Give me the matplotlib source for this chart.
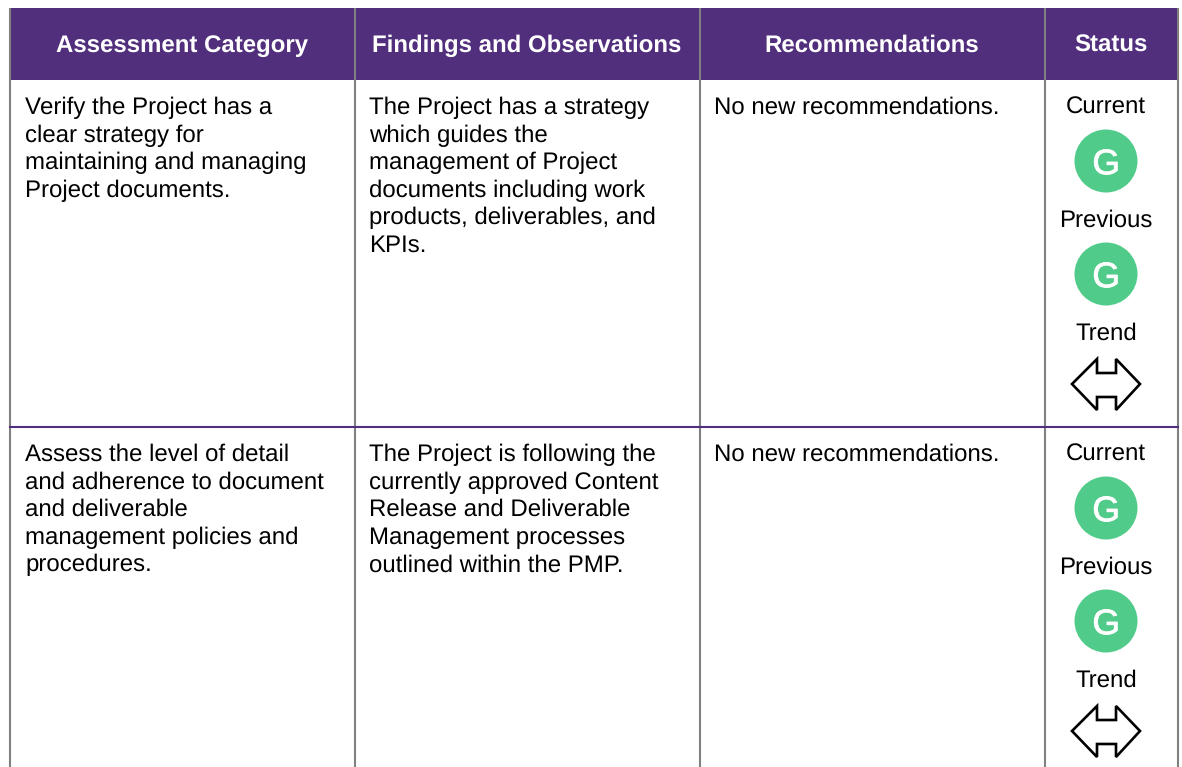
#!/usr/bin/env python3
"""Project assessment table, drawn in pixel coordinates."""

import matplotlib
matplotlib.use("Agg")
import matplotlib.pyplot as plt
import matplotlib.patheffects as pe
from matplotlib.patches import Circle, Polygon, Rectangle

plt.rcParams["font.family"] = ["Liberation Sans", "DejaVu Sans"]
plt.rcParams["text.hinting"] = "no_hinting"
plt.rcParams["text.hinting_factor"] = 1

PURPLE = "#512f7d"
GREY = "#808080"
GREEN = "#50cb8a"

W, H = 1182, 767
TEXT_PT = 17.25
HEAD_PT = 17.4
LINE_H = 27.6

HEADERS = ["Assessment Category", "Findings and Observations", "Recommendations", "Status"]
COL_EDGES = [10, 355, 700, 1045, 1178]
HEADER_TOP = 8
HEADER_BOTTOM = 80
ROW_TOPS = [80, 427]

CATEGORIES = [
    ["Verify the Project has a", "clear strategy for", "maintaining and managing", "Project documents."],
    ["Assess the level of detail", "and adherence to document", "and deliverable",
     "management policies and", "procedures."],
]
FINDINGS = [
    ["The Project has a strategy", "which guides the", "management of Project",
     "documents including work", "products, deliverables, and", "KPIs."],
    ["The Project is following the", "currently approved Content", "Release and Deliverable",
     "Management processes", "outlined within the PMP."],
]
RECOMMENDATIONS = [
    ["No new recommendations."],
    ["No new recommendations."],
]
CURRENT = ["G", "G"]
PREVIOUS = ["G", "G"]


def draw_lines(ax, x, y, lines):
    for i, line in enumerate(lines):
        ax.text(x, y + i * LINE_H, line, fontsize=TEXT_PT, color="black", ha="left", va="baseline")


def draw_badge(ax, cx, cy, letter):
    ax.add_patch(Circle((cx, cy), 31.5, color=GREEN, lw=0, zorder=3))
    ax.text(cx, cy + 0.5, letter, fontsize=25.5, color="white", ha="center", va="center_baseline", zorder=4,
            path_effects=[pe.withStroke(linewidth=0.6, foreground="white")])


def draw_trend(ax, cx, cy):
    # double headed arrow, offsets from the centre of the shape
    dx = [-34, -9, -9, 10, 10, 34, 10, 10, -9, -9]
    dy = [0, -25, -11, -11, -25, 0, 26, 13, 13, 26]
    pts = [(cx + a, cy + b) for a, b in zip(dx, dy)]
    ax.add_patch(Polygon(pts, closed=True, fc="white", ec="black", lw=1.9, joinstyle="miter", zorder=3))


def main():
    fig = plt.figure(figsize=(W / 100, H / 100), dpi=100)
    ax = fig.add_axes([0, 0, 1, 1])
    ax.set_xlim(0, W)
    ax.set_ylim(H, 0)
    ax.axis("off")

    # header band
    ax.add_patch(Rectangle((COL_EDGES[0], HEADER_TOP), COL_EDGES[-1] - COL_EDGES[0],
                           HEADER_BOTTOM - HEADER_TOP, fc=PURPLE, ec="none", zorder=1))
    for i, head in enumerate(HEADERS):
        cx = (COL_EDGES[i] + COL_EDGES[i + 1]) / 2 - 0.5
        ax.text(cx, 52, head, fontsize=HEAD_PT, fontweight="bold", color="white",
                ha="center", va="baseline", zorder=4)

    # grid
    for x in COL_EDGES:
        ax.plot([x, x], [HEADER_TOP, H], color=GREY, lw=1.5, zorder=2, solid_capstyle="butt")
    ax.plot([COL_EDGES[0], COL_EDGES[-1]], [ROW_TOPS[1], ROW_TOPS[1]], color=PURPLE, lw=1.5, zorder=2.5)

    status_x = 1106
    for r, top in enumerate(ROW_TOPS):
        y0 = top + 34
        draw_lines(ax, 25, y0, CATEGORIES[r])
        draw_lines(ax, 369, y0, FINDINGS[r])
        draw_lines(ax, 714, y0, RECOMMENDATIONS[r])

        ax.text(status_x, y0, "Current", fontsize=TEXT_PT, ha="center", va="baseline")
        draw_badge(ax, status_x, top + 81, CURRENT[r])
        ax.text(status_x, top + 147, "Previous", fontsize=TEXT_PT, ha="center", va="baseline")
        draw_badge(ax, status_x, top + 194, PREVIOUS[r])
        ax.text(status_x, top + 260, "Trend", fontsize=TEXT_PT, ha="center", va="baseline")
        draw_trend(ax, status_x, top + 304)

    fig.savefig("out.png", dpi=100, facecolor="white")
    plt.close(fig)


if __name__ == "__main__":
    main()
